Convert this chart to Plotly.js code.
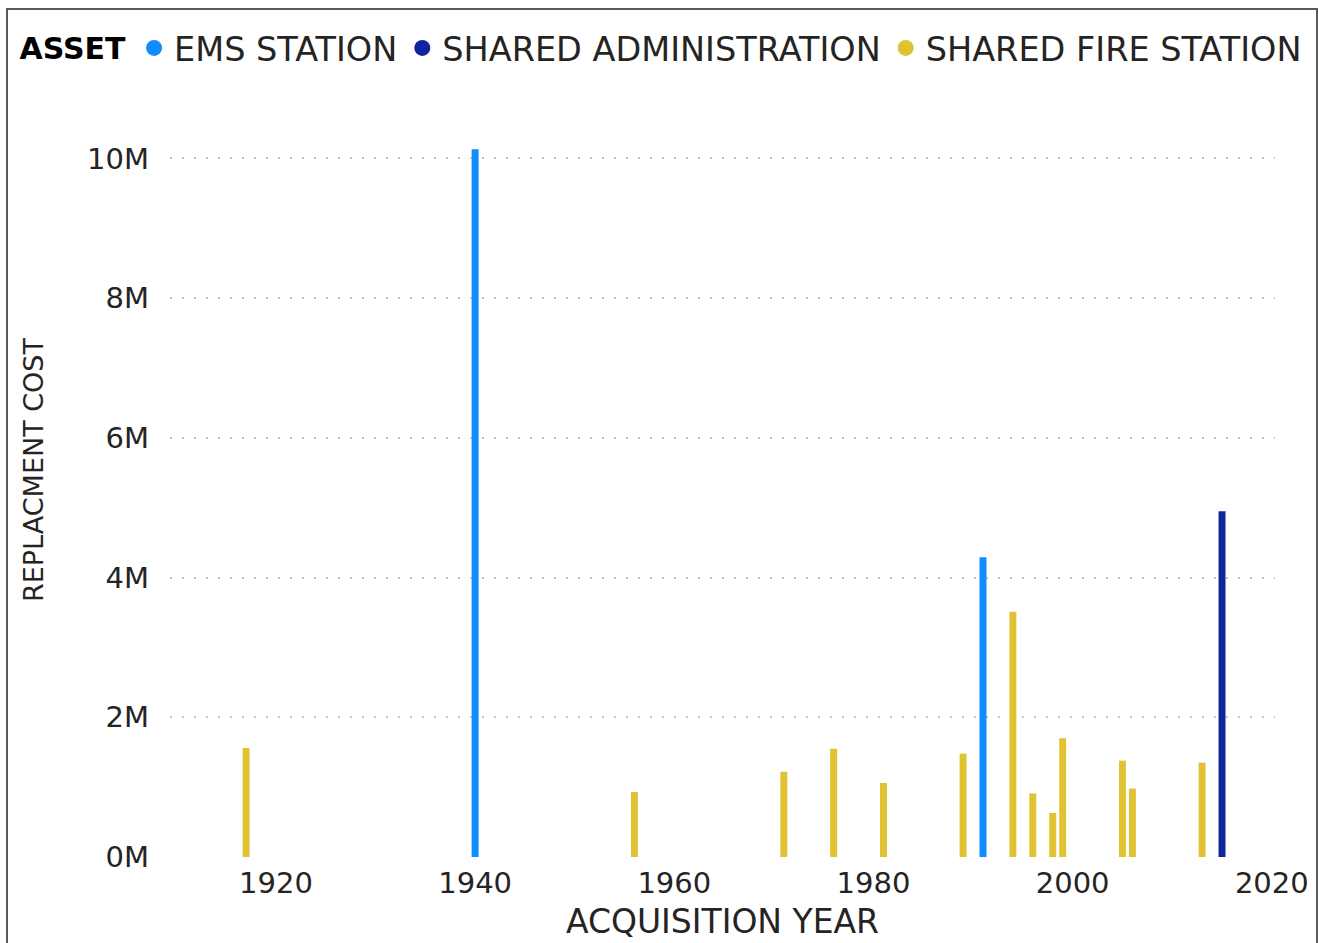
<!DOCTYPE html>
<html>
<head>
<meta charset="utf-8">
<script src="https://cdn.plot.ly/plotly-3.0.1.min.js"></script>
<style>
  html, body { margin: 0; padding: 0; background: #ffffff; }
  #chart { width: 1318px; height: 943px; }
  #frame { position: absolute; left: 6px; top: 8px; width: 1312px; height: 960px;
           border: 2px solid #5a5a5a; pointer-events: none; box-sizing: border-box; }
</style>
</head>
<body>
<div id="chart"></div>
<div id="frame"></div>
<script>
// Acquisition years and replacement cost (millions) per asset type
const emsYears = [1940, 1991];
const emsCost = [10.13, 4.29];

const adminYears = [2015];
const adminCost = [4.95];

const fireYears = [1917, 1956, 1971, 1976, 1981, 1989, 1994, 1996, 1998, 1999, 2005, 2006, 2013];
const fireCost = [1.56, 0.93, 1.22, 1.55, 1.06, 1.48, 3.51, 0.91, 0.63, 1.70, 1.38, 0.98, 1.35];

const seriesNames = ['EMS STATION', 'SHARED ADMINISTRATION', 'SHARED FIRE STATION'];
const seriesColors = ['#118DFF', '#12239E', '#E0C232'];

const yTickVals = [0, 2, 4, 6, 8, 10];
const yTickText = ['0M', '2M', '4M', '6M', '8M', '10M'];
const xTickVals = [1920, 1940, 1960, 1980, 2000, 2020];
const xTickText = ['1920', '1940', '1960', '1980', '2000', '2020'];

const FONT = '"DejaVu Sans", "Open Sans", sans-serif';
const barWidth = 0.7;

const xs = [emsYears, adminYears, fireYears];
const ys = [emsCost, adminCost, fireCost];

const traces = [];
for (let i = 0; i < 3; i++) {
  traces.push({
    type: 'bar', x: xs[i], y: ys[i], name: seriesNames[i],
    width: xs[i].map(() => barWidth),
    marker: { color: seriesColors[i], line: { width: 0 } },
    showlegend: false, hoverinfo: 'x+y+name'
  });
}
// legend entries with circular symbols
for (let i = 0; i < 3; i++) {
  traces.push({
    type: 'scatter', mode: 'markers', x: [null], y: [null], name: seriesNames[i],
    marker: { color: seriesColors[i], size: 16, symbol: 'circle' },
    showlegend: true, hoverinfo: 'skip'
  });
}

const layout = {
  width: 1318, height: 943,
  paper_bgcolor: '#ffffff', plot_bgcolor: '#ffffff',
  margin: { l: 170, r: 43, t: 83, b: 86, pad: 0 },
  barmode: 'overlay',
  font: { family: FONT, color: '#252423', size: 28 },
  showlegend: true,
  legend: {
    orientation: 'h', x: -0.138, xanchor: 'left', y: 1.045, yanchor: 'middle',
    font: { family: FONT, size: 33.5, color: '#252423' },
    title: { text: '<b>ASSET</b>', side: 'left', font: { family: FONT, size: 30, color: '#000000' } },
    itemwidth: 30, tracegroupgap: 0, bgcolor: 'rgba(0,0,0,0)', borderwidth: 0
  },
  xaxis: {
    range: [1909.36, 2020.32],
    tickvals: xTickVals,
    ticktext: xTickText,
    showgrid: false, zeroline: false, showline: false, ticks: '',
    tickfont: { family: FONT, size: 29, color: '#252423' },
    ticklabelstandoff: 6,
    title: { text: 'ACQUISITION YEAR', font: { family: FONT, size: 33, color: '#252423' }, standoff: 10 },
    automargin: false
  },
  yaxis: {
    range: [0, 11.08],
    tickvals: yTickVals,
    ticktext: yTickText,
    showgrid: true, gridcolor: '#c4c4c4', gridwidth: 2, griddash: '2px,10px',
    zeroline: false, showline: false, ticks: '',
    tickfont: { family: FONT, size: 29, color: '#252423' },
    ticklabelstandoff: 20,
    title: { text: 'REPLACMENT COST', font: { family: FONT, size: 27, color: '#252423' }, standoff: 35 },
    automargin: false
  }
};

Plotly.newPlot('chart', traces, layout, { displayModeBar: false, staticPlot: true });
</script>
</body>
</html>
